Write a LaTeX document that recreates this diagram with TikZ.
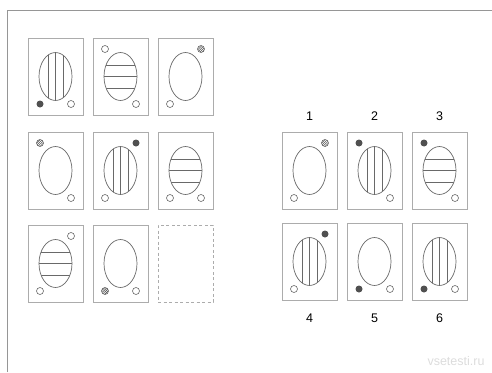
\documentclass[tikz,border=0pt]{standalone}
\usepackage{fontspec}
\setmainfont{Liberation Sans}
\definecolor{framegray}{RGB}{150, 150, 150}
\definecolor{boxgray}{RGB}{172, 172, 172}
\definecolor{linegray}{RGB}{105, 105, 105}
\definecolor{dotdark}{RGB}{80, 80, 80}
\definecolor{marklight}{RGB}{220, 220, 220}
\usetikzlibrary{positioning, shapes.geometric, patterns.meta}

\begin{document}
\begin{tikzpicture}[x=1pt, y=-1pt, node distance=10pt,
  tile/.style={draw=boxgray, line width=0.8pt, minimum width=55pt,
               minimum height=77pt, inner sep=0pt, outer sep=0pt},
  blank/.style={tile, dash pattern=on 3pt off 2.5pt},
  ring/.style={ellipse, draw=linegray, line width=0.7pt, minimum width=33pt,
               minimum height=48pt, inner sep=0pt},
  vlines/.style={ring, path picture={
      \draw[linegray, line width=0.7pt] ([xshift=-7.5pt]path picture bounding box.north) -- ([xshift=-7.5pt]path picture bounding box.south);
      \draw[linegray, line width=0.7pt] (path picture bounding box.north) -- (path picture bounding box.south);
      \draw[linegray, line width=0.7pt] ([xshift=7.5pt]path picture bounding box.north) -- ([xshift=7.5pt]path picture bounding box.south);}},
  hlines/.style={ring, path picture={
      \draw[linegray, line width=0.7pt] ([yshift=11.5pt]path picture bounding box.west) -- ([yshift=11.5pt]path picture bounding box.east);
      \draw[linegray, line width=0.7pt] (path picture bounding box.west) -- (path picture bounding box.east);
      \draw[linegray, line width=0.7pt] ([yshift=-11.5pt]path picture bounding box.west) -- ([yshift=-11.5pt]path picture bounding box.east);}},
  dot/.style={circle, minimum size=7pt, inner sep=0pt, line width=0.6pt},
  hole/.style={dot, draw=linegray, fill=white},
  full/.style={dot, fill=dotdark},
  hatch/.style={dot, draw=linegray, pattern color=dotdark,
                pattern={Lines[angle=45, distance=1.6pt, line width=0.6pt]}},
  num/.style={font=\fontsize{12.5}{14}\selectfont, inner sep=0pt, outer sep=0pt},
  site/.style={font=\fontsize{12.5}{14}\selectfont, text=marklight, inner sep=0pt}]

  \useasboundingbox (0,0) rectangle (492,372);
  \draw[framegray, line width=0.8pt] (7,372) -- (7,10) -- (492,10);

  % question grid
  \node[tile] (q11) at (55.5,76.5) {};
  \node[tile, right=of q11] (q12) {};
  \node[tile, right=of q12] (q13) {};
  \node[tile, below=17pt of q11] (q21) {};
  \node[tile, right=of q21] (q22) {};
  \node[tile, right=of q22] (q23) {};
  \node[tile, below=16pt of q21] (q31) {};
  \node[tile, right=of q31] (q32) {};
  \node[blank, right=of q32] (q33) {};

  \node[vlines] (c11) at (q11) {};
  \node[full] (d11a) at ([xshift=12pt, yshift=11pt]q11.south west) {};
  \node[hole] (d11b) at ([xshift=-12pt, yshift=11pt]q11.south east) {};

  \node[hlines] (c12) at (q12) {};
  \node[hole] (d12a) at ([xshift=12pt, yshift=-11pt]q12.north west) {};
  \node[hole] (d12b) at ([xshift=-12pt, yshift=11pt]q12.south east) {};

  \node[ring] (c13) at (q13) {};
  \node[hatch] (d13a) at ([xshift=-12pt, yshift=-11pt]q13.north east) {};
  \node[hole] (d13b) at ([xshift=12pt, yshift=11pt]q13.south west) {};

  \node[ring] (c21) at (q21) {};
  \node[hatch] (d21a) at ([xshift=12pt, yshift=-11pt]q21.north west) {};
  \node[hole] (d21b) at ([xshift=-12pt, yshift=11pt]q21.south east) {};

  \node[vlines] (c22) at (q22) {};
  \node[full] (d22a) at ([xshift=-12pt, yshift=-11pt]q22.north east) {};
  \node[hole] (d22b) at ([xshift=12pt, yshift=11pt]q22.south west) {};

  \node[hlines] (c23) at (q23) {};
  \node[hole] (d23a) at ([xshift=12pt, yshift=11pt]q23.south west) {};
  \node[hole] (d23b) at ([xshift=-12pt, yshift=11pt]q23.south east) {};

  \node[hlines] (c31) at (q31) {};
  \node[hole] (d31a) at ([xshift=-12pt, yshift=-11pt]q31.north east) {};
  \node[hole] (d31b) at ([xshift=12pt, yshift=11pt]q31.south west) {};

  \node[ring] (c32) at (q32) {};
  \node[hatch] (d32a) at ([xshift=12pt, yshift=11pt]q32.south west) {};
  \node[hole] (d32b) at ([xshift=-12pt, yshift=11pt]q32.south east) {};

  % answers
  \node[tile] (ans1) at (309.5,170.5) {};
  \node[tile, right=of ans1] (ans2) {};
  \node[tile, right=of ans2] (ans3) {};
  \node[tile, below=14pt of ans1] (ans4) {};
  \node[tile, right=of ans4] (ans5) {};
  \node[tile, right=of ans5] (ans6) {};

  \node[num, above=11.5pt of ans1] (lab1) {1};
  \node[num, above=11.5pt of ans2] (lab2) {2};
  \node[num, above=11.5pt of ans3] (lab3) {3};
  \node[num, below=14pt of ans4] (lab4) {4};
  \node[num, below=14pt of ans5] (lab5) {5};
  \node[num, below=14pt of ans6] (lab6) {6};

  \node[ring] (e1) at (ans1) {};
  \node[hatch] (f1a) at ([xshift=-12pt, yshift=-11pt]ans1.north east) {};
  \node[hole] (f1b) at ([xshift=12pt, yshift=11pt]ans1.south west) {};

  \node[vlines] (e2) at (ans2) {};
  \node[full] (f2a) at ([xshift=12pt, yshift=-11pt]ans2.north west) {};
  \node[hole] (f2b) at ([xshift=-12pt, yshift=11pt]ans2.south east) {};

  \node[hlines] (e3) at (ans3) {};
  \node[full] (f3a) at ([xshift=12pt, yshift=-11pt]ans3.north west) {};
  \node[hole] (f3b) at ([xshift=-12pt, yshift=11pt]ans3.south east) {};

  \node[vlines] (e4) at (ans4) {};
  \node[full] (f4a) at ([xshift=-12pt, yshift=-11pt]ans4.north east) {};
  \node[hole] (f4b) at ([xshift=12pt, yshift=11pt]ans4.south west) {};

  \node[ring] (e5) at (ans5) {};
  \node[full] (f5a) at ([xshift=12pt, yshift=11pt]ans5.south west) {};
  \node[hole] (f5b) at ([xshift=-12pt, yshift=11pt]ans5.south east) {};

  \node[vlines] (e6) at (ans6) {};
  \node[full] (f6a) at ([xshift=12pt, yshift=11pt]ans6.south west) {};
  \node[hole] (f6b) at ([xshift=-12pt, yshift=11pt]ans6.south east) {};

  \node[site] (mark) at (456,361) {vsetesti.ru};
\end{tikzpicture}
\end{document}
